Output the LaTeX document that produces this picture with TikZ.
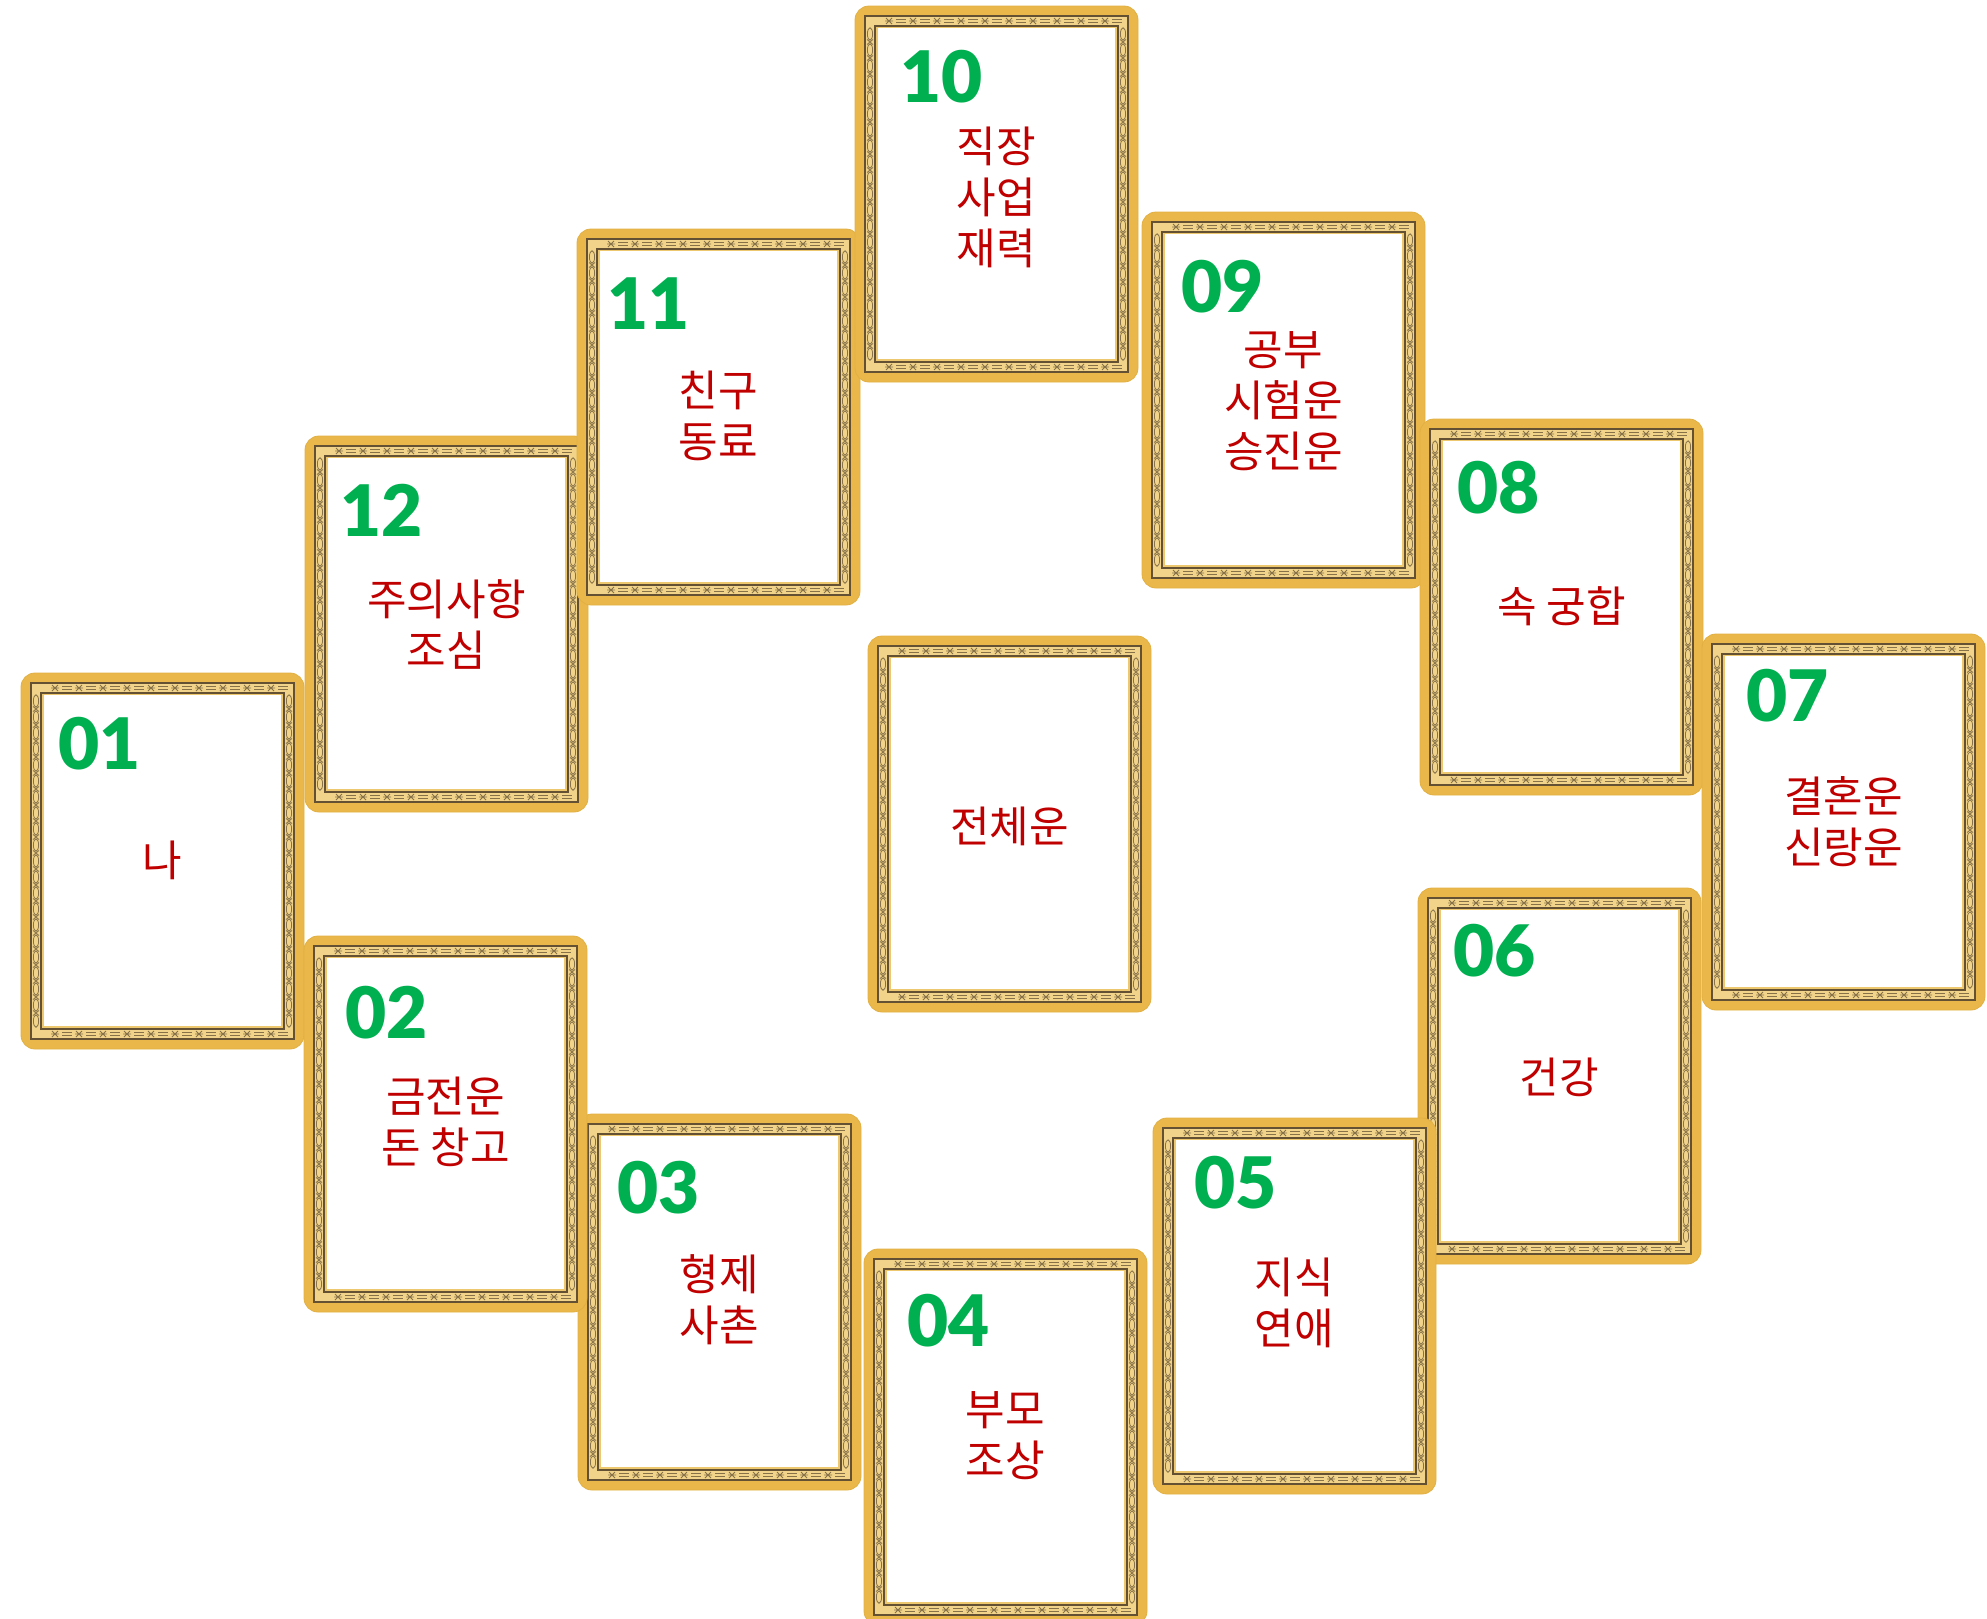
\documentclass[tikz,border=0pt]{standalone}
\usepackage{fontspec}
\newfontfamily\krfont{Noto Sans CJK KR}
\newfontfamily\numfont{Lato}[BoldFont={Lato Black}]
\definecolor{gold}{RGB}{234,184,74}
\definecolor{goldedge}{RGB}{226,176,66}
\definecolor{bandgold}{RGB}{241,212,138}
\definecolor{ringgold}{RGB}{238,200,110}
\definecolor{bandline}{RGB}{100,80,50}
\definecolor{txtred}{RGB}{192,0,0}
\definecolor{numgreen}{RGB}{0,176,80}
\tikzset{
  cardbase/.style={draw=goldedge, line width=0.8pt, fill=gold, rounded corners=14pt,
    minimum width=283pt, minimum height=376pt, inner sep=0pt, outer sep=0pt},
  bandl/.style={draw=bandline, line width=1.1pt},
  patl/.style={draw=bandline!75!bandgold, line width=0.8pt},
  numtxt/.style={font=\numfont\bfseries\fontsize{71}{71}\selectfont, text=numgreen,
    inner sep=0pt, anchor=north west},
  lbltxt/.style={font=\krfont\fontsize{43}{51}\selectfont, text=txtred, align=center,
    inner sep=0pt},
}
% #1 name, #2 x, #3 y (top-left, px), #4 label, #5 label centre y
\newcommand\tarot[5]{%
\begin{scope}[shift={(#2,#3)}]
  \node[cardbase, anchor=north west] (#1) at (0,0) {};
  \fill[bandgold] (10,10) rectangle (273,366);
  \fill[ringgold] (20,20) rectangle (263,356);
  \draw[bandl] (10,10) rectangle (273,366);
  \draw[bandl] (20,20) rectangle (263,356);
  \foreach \yy in {28,44,...,348}{%
    \draw[patl] (15,\yy) ellipse (2.6 and 6.2);
    \draw[patl] (268,\yy) ellipse (2.6 and 6.2);}
  \foreach \yy in {36,52,...,340}{%
    \draw[patl] (12,\yy-2.5)--(18,\yy+2.5) (12,\yy+2.5)--(18,\yy-2.5)
                (265,\yy-2.5)--(271,\yy+2.5) (265,\yy+2.5)--(271,\yy-2.5);}
  \foreach \xx in {34,58,...,250}{%
    \draw[patl] (\xx-3,12)--(\xx+3,18) (\xx-3,18)--(\xx+3,12) (\xx-4,15)--(\xx+4,15)
                (\xx-3,358)--(\xx+3,364) (\xx-3,364)--(\xx+3,358) (\xx-4,361)--(\xx+4,361);
    \draw[patl] (\xx+7,13.2)--(\xx+17,13.2) (\xx+7,16.8)--(\xx+17,16.8)
                (\xx+7,359.2)--(\xx+17,359.2) (\xx+7,362.8)--(\xx+17,362.8);}
  \fill[white] (23,22) rectangle (260,353);
\end{scope}
\node[lbltxt] (t#1) at (#2+141.5,#5) {#4};
}
% #1 name, #2 x, #3 y, #4 digits
\newcommand\cardnum[4]{\node[numtxt] (n#1) at (#2,#3) {#4};}

\begin{document}
\begin{tikzpicture}[x=1pt,y=-1pt]
\useasboundingbox (0,0) rectangle (1987,1618);
\clip (0,0) rectangle (1987,1618);
\fill[white] (0,0) rectangle (1987,1618);

\tarot{c01}{21}{673}{나}{860}
\cardnum{c01}{58}{717}{01}
\tarot{c12}{305}{436}{주의사항\\조심}{624}
\cardnum{c12}{340}{484}{12}
\tarot{c11}{577}{229}{친구\\동료}{416}
\cardnum{c11}{607}{278}{11}
\tarot{c10}{855}{6}{직장\\사업\\재력}{197}
\cardnum{c10}{900}{50}{10}
\tarot{c09}{1142}{212}{공부\\시험운\\승진운}{401}
\cardnum{c09}{1181}{260}{09}
\tarot{c08}{1420}{419}{속 궁합}{606}
\cardnum{c08}{1457}{461}{08}
\tarot{c07}{1702}{634}{결혼운\\신랑운}{822}
\cardnum{c07}{1746}{669}{07}
\tarot{c06}{1418}{888}{건강}{1077}
\cardnum{c06}{1453}{924}{06}
\tarot{c05}{1153}{1118}{지식\\연애}{1303}
\cardnum{c05}{1194}{1156}{05}
\tarot{c04}{864}{1249}{부모\\조상}{1436}
\cardnum{c04}{907}{1294}{04}
\tarot{c03}{578}{1114}{형제\\사촌}{1300}
\cardnum{c03}{617}{1161}{03}
\tarot{c02}{304}{936}{금전운\\돈 창고}{1122}
\cardnum{c02}{345}{986}{02}
\tarot{cc}{868}{636}{전체운}{826}
\end{tikzpicture}
\end{document}
